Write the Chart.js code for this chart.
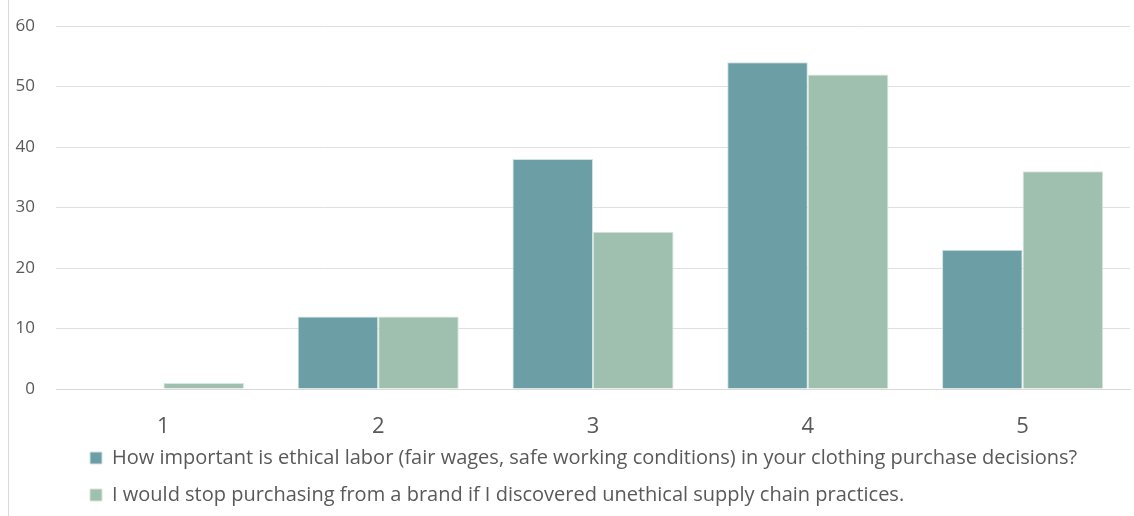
<!DOCTYPE html>
<html>
<head>
<meta charset="utf-8">
<script src="https://cdn.jsdelivr.net/npm/chart.js@4/dist/chart.umd.min.js"></script>
<style>
  html, body { margin: 0; padding: 0; background: #ffffff; }
  #wrap { position: relative; width: 1134px; height: 516px; }
  #frame { position: absolute; left: 8px; top: 0; width: 1px; height: 516px; background: #d9d9d9; }
  canvas { display: block; }
</style>
</head>
<body>
<div id="wrap">
  <div id="frame"></div>
  <canvas id="chart" width="1134" height="516"></canvas>
</div>
<script>
// Rating scale (1 = lowest, 5 = highest)
const categories = ['1', '2', '3', '4', '5'];
const seriesNames = [
  'How important is ethical labor (fair wages, safe working conditions) in your clothing purchase decisions?',
  'I would stop purchasing from a brand if I discovered unethical supply chain practices.'
];
const ethicalLaborImportance = [0, 12, 38, 54, 23];
const wouldStopPurchasing = [1, 12, 26, 52, 36];
const yTicks = [0, 10, 20, 30, 40, 50, 60];

const textColor = '#595959';
const fontFamily = '"Open Sans", "Noto Sans", sans-serif';

// Indent the legend rows under the plot, and let the category labels
// overlap the legend's top padding without being clipped.
const layoutTweaks = {
  id: 'layoutTweaks',
  afterLayout(chart) {
    if (chart.legend) {
      chart.legend.left = 73;
    }
    const x = chart.scales.x;
    if (x) {
      x.bottom = x.top + 60;
    }
  }
};

new Chart(document.getElementById('chart'), {
  type: 'bar',
  data: {
    labels: categories,
    datasets: [
      {
        label: seriesNames[0],
        data: ethicalLaborImportance,
        backgroundColor: '#6b9ea5',
        borderColor: '#cfe3e3',
        borderWidth: 1,
        categoryPercentage: 0.75,
        barPercentage: 1.0
      },
      {
        label: seriesNames[1],
        data: wouldStopPurchasing,
        backgroundColor: '#9fbfaf',
        borderColor: '#d6e6dc',
        borderWidth: 1,
        categoryPercentage: 0.75,
        barPercentage: 1.0
      }
    ]
  },
  plugins: [layoutTweaks],
  options: {
    responsive: false,
    animation: false,
    layout: { padding: { left: 15, right: 4, top: 26, bottom: 1 } },
    scales: {
      x: {
        afterFit(scale) { scale.height = 42; },
        grid: { display: false, drawTicks: false },
        border: { display: true, color: '#d9d9d9', width: 1 },
        ticks: { color: textColor, font: { family: fontFamily, size: 22 }, padding: 25 }
      },
      y: {
        min: 0,
        max: 60,
        afterBuildTicks(axis) { axis.ticks = yTicks.map(v => ({ value: v })); },
        afterFit(scale) {
          scale.width = 41;
          scale.paddingTop = 10;
        },
        grid: { color: '#e0e0e0', lineWidth: 1, drawTicks: false },
        border: { display: false },
        ticks: { color: textColor, font: { family: fontFamily, size: 17 }, padding: 21 }
      }
    },
    plugins: {
      tooltip: { enabled: false },
      legend: {
        position: 'bottom',
        align: 'start',
        labels: {
          color: textColor,
          font: { family: fontFamily, size: 20 },
          boxWidth: 12,
          boxHeight: 12,
          padding: 17
        }
      }
    }
  }
});
</script>
</body>
</html>
